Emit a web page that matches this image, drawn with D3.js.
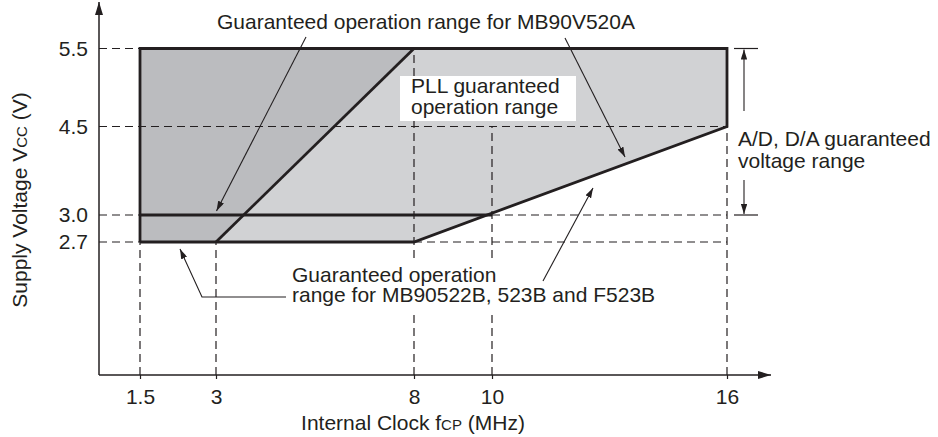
<!DOCTYPE html>
<html>
<head>
<meta charset="utf-8">
<script src="https://cdn.jsdelivr.net/npm/d3@7"></script>
<style>
  body { margin: 0; background: #fff; }
  text { font-family: "Liberation Sans", Arial, sans-serif; fill: #231f20; }
</style>
</head>
<body>
<script>
const w = 938;
const h = 437;
const ink = '#231f20';
const fs = 21;

// axis break points (the drawing is not to scale, so the scales are piecewise)
const xTicks = [1.5, 3, 8, 10, 16];
const yTicks = [2.7, 3.0, 4.5, 5.5];

// regions (fcp MHz, Vcc V)
const v520aOnly = [[1.5, 2.7], [3, 2.7], [8, 5.5], [1.5, 5.5]];
const pllRange = [[3, 2.7], [8, 2.7], [16, 4.5], [16, 5.5], [8, 5.5]];
const outline = [[1.5, 2.7], [1.5, 5.5], [16, 5.5], [16, 4.5], [8, 2.7], [1.5, 2.7]];
const diagonal = [[3, 2.7], [8, 5.5]];
const v520aFloor = [[1.5, 3.0], [10, 3.0]];

// dashed guides: [x1, y1, x2, y2]
const guides = [
    [0, 5.5, 1.5, 5.5], [0, 4.5, 16, 4.5], [0, 3.0, 1.5, 3.0], [10, 3.0, 16, 3.0],
    [0, 2.7, 1.5, 2.7], [8, 2.7, 16, 2.7],
    [1.5, 0, 1.5, 2.7], [3, 0, 3, 2.7], [8, 0, 8, 5.5], [10, 0, 10, 4.5], [16, 0, 16, 4.5]
];

const pllLines = ['PLL guaranteed', 'operation range'];
const adLines = ['A/D, D/A guaranteed', 'voltage range'];
const mb522Lines = ['Guaranteed operation', 'range for MB90522B, 523B and F523B'];

const x = d3.scaleLinear().domain([0, 1.5, 3, 8, 10, 16]).range([99, 140, 216, 414, 492, 727]);
const y = d3.scaleLinear().domain([0, 2.7, 3.0, 4.5, 5.5]).range([375, 242, 215, 126.5, 48.5]);

const svg = d3.select('body').append('svg')
    .attr('width', w)
    .attr('height', h);

const defs = svg.append('defs');
function arrowMarker(id, len, half) {
    defs.append('marker')
        .attr('id', id)
        .attr('markerUnits', 'userSpaceOnUse')
        .attr('viewBox', `0 ${-half} ${len} ${half * 2}`)
        .attr('refX', len).attr('refY', 0)
        .attr('markerWidth', len).attr('markerHeight', half * 2)
        .attr('orient', 'auto')
        .append('path')
        .attr('d', `M0,${-half}L${len},0L0,${half}Z`)
        .attr('fill', ink);
}
arrowMarker('axisHead', 13, 4);
arrowMarker('head', 10, 3.2);

const line = d3.line().x(d => x(d[0])).y(d => y(d[1]));

svg.append('path').attr('d', line(pllRange) + 'Z').attr('fill', '#d1d2d4');
svg.append('path').attr('d', line(v520aOnly) + 'Z').attr('fill', '#bbbcbf');

svg.selectAll('line.guide')
    .data(guides)
    .enter()
    .append('line')
        .attr('class', 'guide')
        .attr('x1', d => x(d[0]))
        .attr('y1', d => y(d[1]))
        .attr('x2', d => x(d[2]))
        .attr('y2', d => y(d[3]))
        .attr('stroke', ink)
        .attr('stroke-width', 1.2)
        .attr('stroke-dasharray', '8,5');

// region borders
[outline, diagonal, v520aFloor].forEach(pts => {
    svg.append('path')
        .attr('d', line(pts))
        .attr('fill', 'none')
        .attr('stroke', ink)
        .attr('stroke-width', 2.8)
        .attr('stroke-linejoin', 'miter');
});

// axes
svg.append('line')
    .attr('x1', x(0)).attr('y1', y(0)).attr('x2', 771).attr('y2', y(0))
    .attr('stroke', ink).attr('stroke-width', 1.5)
    .attr('marker-end', 'url(#axisHead)');
svg.append('line')
    .attr('x1', x(0)).attr('y1', y(0)).attr('x2', x(0)).attr('y2', 2)
    .attr('stroke', ink).attr('stroke-width', 1.5)
    .attr('marker-end', 'url(#axisHead)');

const xAxis = svg.append('g')
    .attr('transform', `translate(0,${y(0)})`)
    .call(d3.axisBottom(x).tickValues(xTicks).tickSize(4).tickPadding(10).tickFormat(d3.format('')));
const yAxis = svg.append('g')
    .attr('transform', `translate(${x(0)},0)`)
    .call(d3.axisLeft(y).tickValues(yTicks).tickSize(0).tickPadding(11).tickFormat(d3.format('.1f')));
[xAxis, yAxis].forEach(g => {
    g.select('.domain').remove();
    g.selectAll('.tick line').attr('stroke', ink).attr('stroke-width', 1.2);
    g.selectAll('text')
        .attr('font-family', '"Liberation Sans", Arial, sans-serif')
        .attr('font-size', fs)
        .attr('fill', ink);
});

// axis titles
const xTitle = svg.append('text')
    .attr('x', 413).attr('y', 430)
    .attr('text-anchor', 'middle')
    .attr('font-size', fs);
xTitle.append('tspan').text('Internal Clock f');
xTitle.append('tspan').attr('font-size', 15).text('CP');
xTitle.append('tspan').text(' (MHz)');

const yTitle = svg.append('text')
    .attr('transform', 'translate(27,200) rotate(-90)')
    .attr('text-anchor', 'middle')
    .attr('font-size', fs);
yTitle.append('tspan').text('Supply Voltage V');
yTitle.append('tspan').attr('font-size', 15).text('CC');
yTitle.append('tspan').text(' (V)');

function label(lines, x0, y0, step) {
    lines.forEach((t, i) => {
        svg.append('text')
            .attr('x', x0).attr('y', y0 + i * step)
            .attr('font-size', fs)
            .text(t);
    });
}

// PLL label on a white box
svg.append('rect')
    .attr('x', 400).attr('y', 76).attr('width', 176).attr('height', 45)
    .attr('fill', '#fff');
label(pllLines, 411, 92.5, 21);

// MB90V520A label
label(['Guaranteed operation range for MB90V520A'], 217, 29, 0);

function arrow(pts) {
    svg.append('path')
        .attr('d', d3.line()(pts))
        .attr('fill', 'none')
        .attr('stroke', ink)
        .attr('stroke-width', 1.1)
        .attr('marker-end', 'url(#head)');
}
arrow([[306, 37], [216.5, 211]]);
arrow([[565, 38], [625, 157]]);

// MB90522B label, blanking the guides behind it
svg.append('rect')
    .attr('x', 288).attr('y', 263).attr('width', 260).attr('height', 47)
    .attr('fill', '#fff');
label(mb522Lines, 292, 282, 20);
arrow([[286, 297], [202, 297], [180, 249]]);
arrow([[543, 281], [593, 188]]);

// A/D, D/A dimension
const dimX = 744;
[5.5, 3.0].forEach(v => {
    svg.append('line')
        .attr('x1', 734).attr('x2', 758)
        .attr('y1', y(v)).attr('y2', y(v))
        .attr('stroke', ink).attr('stroke-width', 1.2);
});
arrow([[dimX, 111], [dimX, y(5.5) + 1]]);
arrow([[dimX, 180], [dimX, y(3.0) - 1]]);
label(adLines, 738, 145.5, 22.5);
</script>
</body>
</html>
